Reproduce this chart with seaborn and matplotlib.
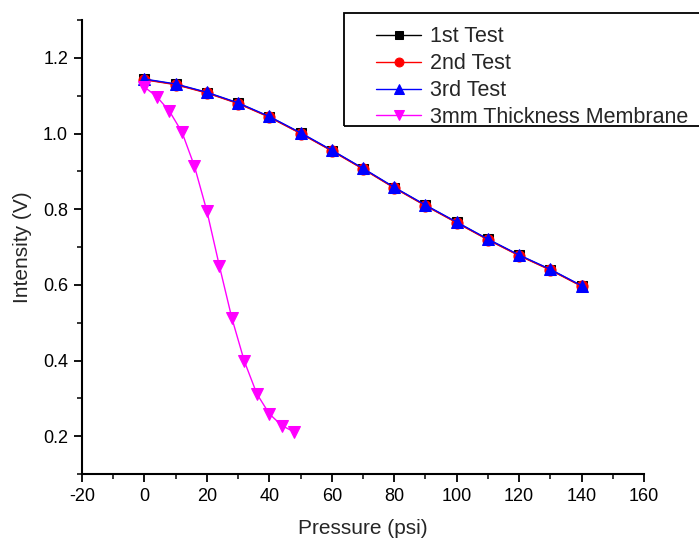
import matplotlib
matplotlib.use("Agg")
import matplotlib.pyplot as plt
import seaborn as sns
import pandas as pd
from matplotlib.ticker import MultipleLocator
from matplotlib.patches import Rectangle

pressure_tests = [0, 10, 20, 30, 40, 50, 60, 70, 80, 90, 100, 110, 120, 130, 140]
test1 = [1.143, 1.130, 1.108, 1.080, 1.044, 1.001, 0.955, 0.907, 0.857, 0.810, 0.765, 0.720, 0.678, 0.640, 0.597]
test2 = [1.142, 1.129, 1.107, 1.079, 1.043, 1.000, 0.954, 0.906, 0.856, 0.809, 0.764, 0.719, 0.677, 0.639, 0.596]
test3 = [1.144, 1.131, 1.109, 1.081, 1.045, 1.002, 0.956, 0.908, 0.858, 0.811, 0.766, 0.721, 0.679, 0.641, 0.598]

pressure_membrane = [0, 4, 8, 12, 16, 20, 24, 28, 32, 36, 40, 44, 48]
membrane = [1.123, 1.097, 1.059, 1.004, 0.914, 0.795, 0.650, 0.512, 0.398, 0.312, 0.259, 0.228, 0.211]

series_names = ["1st Test", "2nd Test", "3rd Test", "3mm Thickness Membrane"]
y_tick_labels = ["0.2", "0.4", "0.6", "0.8", "1.0", "1.2"]

sns.set_theme(style="ticks")
plt.rcParams['font.family'] = ['Liberation Sans', 'DejaVu Sans']
plt.rcParams['axes.unicode_minus'] = False

W, H = 699, 542
fig = plt.figure(figsize=(W / 100, H / 100), dpi=100)
ax = fig.add_axes([82 / W, 1 - 474 / H, (644 - 82) / W, (474 - 20) / H])

specs = [
    (pressure_tests, test1, series_names[0], "black", "s", 7),
    (pressure_tests, test2, series_names[1], "red", "o", 8),
    (pressure_tests, test3, series_names[2], "blue", "^", 8.5),
    (pressure_membrane, membrane, series_names[3], "magenta", "v", 9),
]
for xs, ys, name, col, mk, ms in specs:
    df = pd.DataFrame({"x": xs, "y": ys})
    sns.lineplot(data=df, x="x", y="y", ax=ax, color=col, marker=mk, markersize=ms,
                 markeredgecolor=col, linewidth=1, label=name)

ax.set_xlim(-20, 160)
ax.set_ylim(0.1, 1.3)
ax.xaxis.set_major_locator(MultipleLocator(20))
ax.xaxis.set_minor_locator(MultipleLocator(10))
ax.yaxis.set_minor_locator(MultipleLocator(0.1))
ax.set_yticks([0.2, 0.4, 0.6, 0.8, 1.0, 1.2])
ax.set_yticklabels(y_tick_labels)
ax.tick_params(which="major", length=6, width=1.3, direction="out", labelsize=13,
               colors="black", pad=4)
ax.tick_params(which="minor", length=3.5, width=1.3, direction="out")
for s in ["top", "right"]:
    ax.spines[s].set_visible(False)
for s in ["left", "bottom"]:
    ax.spines[s].set_linewidth(1.5)
    ax.spines[s].set_color("black")

ax.set_xlabel("Pressure (psi)", fontsize=15)
ax.set_ylabel("Intensity (V)", fontsize=15)
ax.xaxis.set_label_coords(0.5, -(528 - 474) / (474 - 20), transform=ax.transAxes)
ax.xaxis.label.set_va("center")
ax.yaxis.set_label_coords(-(82 - 23) / (644 - 82), 0.5, transform=ax.transAxes)
ax.yaxis.label.set_va("center")

leg = ax.legend(loc="upper left", bbox_to_anchor=(376 / W, 1 - 26.5 / H),
                bbox_transform=fig.transFigure, fontsize=15.5, frameon=False,
                handlelength=2.1, handletextpad=0.42, markerscale=0.8,
                labelspacing=0.27, borderaxespad=0, borderpad=0)

fig.patches.append(Rectangle((344 / W, 1 - 126 / H), (720 - 344) / W, (126 - 12.7) / H,
                             transform=fig.transFigure, fill=False, edgecolor="black",
                             linewidth=1.3, zorder=5))

fig.savefig("out.png", dpi=100)
